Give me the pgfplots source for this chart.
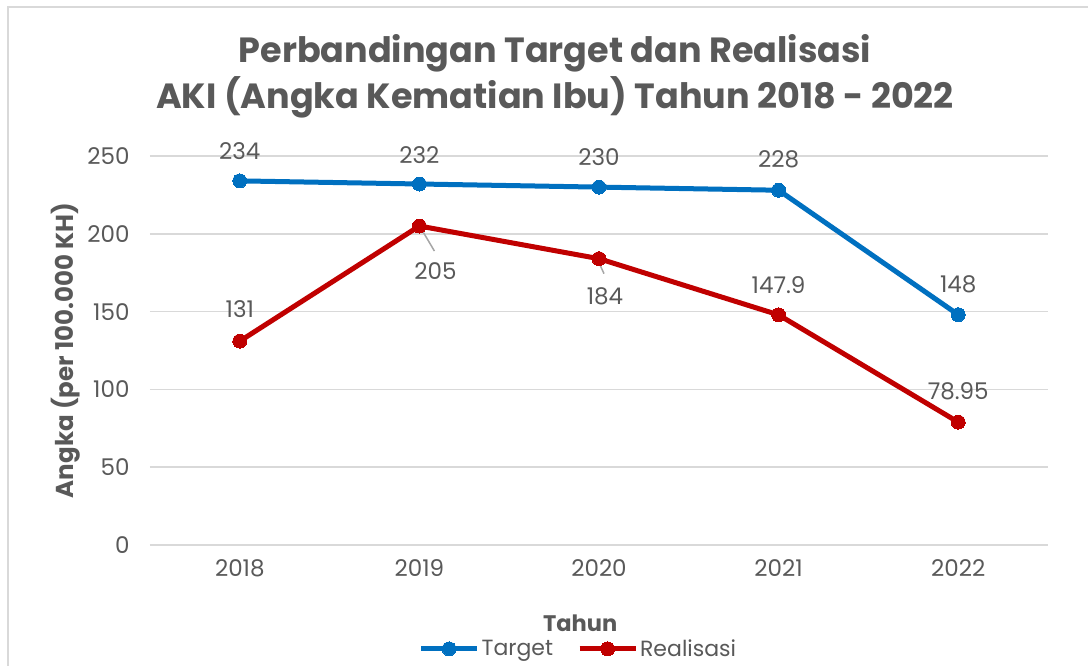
\documentclass[border=0pt]{standalone}
\usepackage{pgfplots}
\pgfplotsset{compat=1.18}
\usepackage{fontspec}
\setmainfont{Poppins}

\definecolor{txt}{HTML}{595959}
\definecolor{gridc}{HTML}{D9D9D9}
\definecolor{target}{HTML}{0070C0}
\definecolor{real}{HTML}{C00000}
\definecolor{leader}{HTML}{A6A6A6}

\newcommand{\lbl}{\fontsize{22}{26}\selectfont}
\newcommand{\tck}{\fontsize{23}{27}\selectfont}

\begin{document}
\begin{tikzpicture}[x=1pt,y=1pt]
\useasboundingbox (0,0) rectangle (1088,666);
\fill[white] (0,0) rectangle (1088,666);
\draw[gridc, line width=1.5pt] (8,0) -- (8,659) -- (1088,659);

\node[font=\bfseries\fontsize{35}{46}\selectfont, text=txt, align=center]
  at (555,590) {Perbandingan Target dan Realisasi\\AKI (Angka Kematian Ibu) Tahun 2018 - 2022};

\begin{axis}[
    at={(150pt,121pt)}, anchor=south west,
    scale only axis, width=898pt, height=389pt,
    xmin=2017.5, xmax=2022.5,
    ymin=0, ymax=250,
    xtick={2018,2019,2020,2021,2022},
    ytick={0,50,100,150,200,250},
    ymajorgrids=true,
    grid style={gridc, line width=1.5pt},
    axis line style={draw=none},
    tick style={draw=none},
    ticklabel style={font=\tck, text=txt},
    xticklabel style={/pgf/number format/1000 sep={}, yshift=-11pt},
    yticklabel style={xshift=-17pt},
    /pgf/number format/assume math mode=true,
    xlabel={Tahun},
    ylabel={Angka (per 100.000 KH)},
    xlabel style={font=\bfseries\fontsize{22.5}{26}\selectfont, text=txt,
        at={(axis description cs:0.479,-0.2)}, anchor=center},
    ylabel style={font=\bfseries\fontsize{24.5}{28}\selectfont, text=txt,
        at={(axis description cs:-0.0935,0.5)}, anchor=center},
    legend columns=2,
    legend style={at={(axis description cs:0.477,-0.267)}, anchor=center,
        draw=none, fill=none, font=\lbl, text=txt,
        /tikz/every even column/.append style={column sep=22pt}},
    legend image code/.code={\draw[mark repeat=2,mark phase=2]
        plot coordinates {(0pt,0pt)(28pt,0pt)(56pt,0pt)};},
    clip=false,
]
\addplot[color=target, line width=5pt, mark=*, mark size=7pt,
    mark options={line width=0pt}] coordinates
    {(2018,234)(2019,232)(2020,230)(2021,228)(2022,148)};
\addlegendentry{Target}
\addplot[color=real, line width=5pt, mark=*, mark size=7pt,
    mark options={line width=0pt}] coordinates
    {(2018,131)(2019,205)(2020,184)(2021,147.9)(2022,78.95)};
\addlegendentry{Realisasi}

% leader lines
\draw[leader, line width=1.5pt] ([xshift=2pt,yshift=-3pt]axis cs:2019,205) -- ++(13pt,-22pt);
\draw[leader, line width=1.5pt] ([yshift=-4pt]axis cs:2020,184) -- ++(5pt,-11pt);

% data labels
\begin{scope}[every node/.style={font=\tck, text=txt, anchor=center}]
\node at ([yshift=30pt]axis cs:2018,234) {234};
\node at ([yshift=29pt]axis cs:2019,232) {232};
\node at ([yshift=30pt]axis cs:2020,230) {230};
\node at ([yshift=31pt]axis cs:2021,228) {228};
\node at ([yshift=30pt]axis cs:2022,148) {148};
\node at ([yshift=32pt]axis cs:2018,131) {131};
\node at ([xshift=16pt,yshift=-45pt]axis cs:2019,205) {205};
\node at ([xshift=6pt,yshift=-38pt]axis cs:2020,184) {184};
\node at ([yshift=30pt]axis cs:2021,147.9) {147.9};
\node at ([yshift=31pt]axis cs:2022,78.95) {78.95};
\end{scope}
\end{axis}
\end{tikzpicture}
\end{document}
